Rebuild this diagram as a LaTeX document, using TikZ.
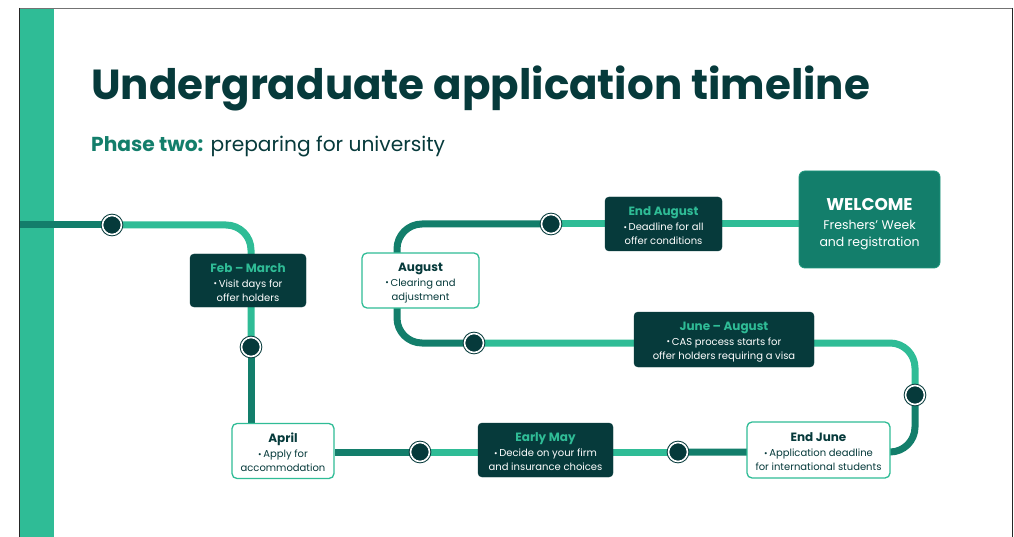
\documentclass[tikz,border=0pt]{standalone}
\usepackage{fontspec}
\setmainfont{Poppins}
\usetikzlibrary{calc}
\definecolor{darkteal}{HTML}{063A3B}
\definecolor{midgreen}{HTML}{137E6B}
\definecolor{lightgreen}{HTML}{2FBC96}
\pgfdeclarelayer{bottom}
\pgfdeclarelayer{background}
\pgfsetlayers{bottom,background,main}
\newcommand{\bul}{{\fontsize{8.5}{8}\selectfont\raisebox{0.6pt}{•}}\,}
\tikzset{
  darkbox/.style={fill=darkteal, draw=darkteal, rounded corners=4pt, align=center, inner sep=0pt, text=white, font=\fontsize{10}{14}\selectfont},
  whitebox/.style={fill=white, draw=lightgreen, line width=1.3pt, rounded corners=5pt, align=center, inner sep=0pt, text=darkteal, font=\fontsize{10}{14}\selectfont},
  welcomebox/.style={fill=midgreen, draw=lightgreen!40!midgreen, line width=0.8pt, rounded corners=6pt, align=center, inner sep=0pt, text=white, font=\fontsize{12.5}{17}\selectfont},
  stop/.style={circle, draw=darkteal, double=white, double distance=1.6pt, line width=1pt, fill=darkteal, minimum size=19pt, inner sep=0pt},
  darkline/.style={draw=midgreen, line width=7pt, rounded corners=25pt},
  lightline/.style={draw=lightgreen, line width=7pt, rounded corners=25pt},
}
\newcommand{\dtitle}[1]{\rule{0pt}{13pt}{\fontsize{12}{15}\selectfont\bfseries\color{lightgreen}#1}\\[1pt]}
\newcommand{\wtitle}[1]{\rule{0pt}{13pt}{\fontsize{12}{15}\selectfont\bfseries\color{darkteal}#1}\\[1pt]}
\begin{document}
\begin{tikzpicture}[x=1pt,y=-1pt]
\useasboundingbox (0,0) rectangle (1014,537);
% frame
\begin{pgfonlayer}{bottom}
\fill[white] (0,0) rectangle (1014,537);
\fill[lightgreen] (20,9) rectangle (54,537);
\draw[black!55, line width=1.5pt] (19,8.5) -- (1013,8.5);
\draw[black!85, line width=1pt] (19.5,8) -- (19.5,537);
\draw[black!85, line width=1pt] (1012.5,8) -- (1012.5,537);
\end{pgfonlayer}
% titles
\node[anchor=base west, inner sep=0pt, text=darkteal, font=\fontsize{42}{42}\selectfont\bfseries] (title) at (91,100) {Undergraduate application timeline};
\node[anchor=base west, inner sep=0pt, text=darkteal, font=\fontsize{20.2}{20}\selectfont] (subtitle) at (91,152) {{\bfseries\color{midgreen}Phase two:} preparing for university};
% stops
\coordinate (start) at (20,225);
\node[stop] (s1) at (112,225) {};
\node[stop] (s2) at (251,347) {};
\node[stop] (s3) at (420,452) {};
\node[stop] (s4) at (678,452) {};
\node[stop] (s5) at (915,395) {};
\node[stop] (s6) at (474,343) {};
\node[stop] (s7) at (551,224) {};
\coordinate (c8) at (397,224);
% boxes
\node[darkbox, minimum width=116pt, minimum height=53pt] (feb) at (248,280.5) {\dtitle{Feb – March}\bul Visit days for\\offer holders};
\node[whitebox, minimum width=102pt, minimum height=55pt] (april) at (283,451) {\wtitle{April}\bul Apply for\\accommodation};
\node[darkbox, minimum width=135pt, minimum height=54pt] (may) at (545.5,450) {\dtitle{Early May}\bul Decide on your firm\\and insurance choices};
\node[whitebox, minimum width=143pt, minimum height=56pt] (endjune) at (818.5,450) {\wtitle{End June}\bul Application deadline\\for international students};
\node[darkbox, minimum width=180pt, minimum height=55pt] (junaug) at (724,339.5) {\dtitle{June – August}\bul CAS process starts for\\offer holders requiring a visa};
\node[whitebox, minimum width=117pt, minimum height=55pt] (aug) at (420.5,280.5) {\wtitle{August}\bul Clearing and\\adjustment};
\node[darkbox, minimum width=117pt, minimum height=54pt] (endaug) at (663.5,224) {\dtitle{End August}\bul Deadline for all\\offer conditions};
\node[welcomebox, minimum width=141pt, minimum height=97pt] (welcome) at (869.5,219.5) {\rule{0pt}{21pt}{\fontsize{17}{20}\selectfont\bfseries WELCOME}\\[2pt]Freshers’ Week\\and registration};
% path
\begin{pgfonlayer}{background}
\draw[darkline] (start) -- (s1.center);
\draw[lightline] (s1.center) -| (s2.center);
\draw[darkline] (s2.center) -- (s2.center |- april.north);
\draw[darkline] (april.east |- s3.center) -- (s3.center);
\draw[lightline] (s3.center) -- (s4.center);
\draw[darkline] (s4.center) -| (s5.center);
\draw[lightline] (s5.center) |- (s6.center);
\draw[darkline] (s6.center) -| (c8) -- (s7.center);
\draw[lightline] (s7.center) -- (s7.center -| welcome.west);
\end{pgfonlayer}
\end{tikzpicture}
\end{document}
